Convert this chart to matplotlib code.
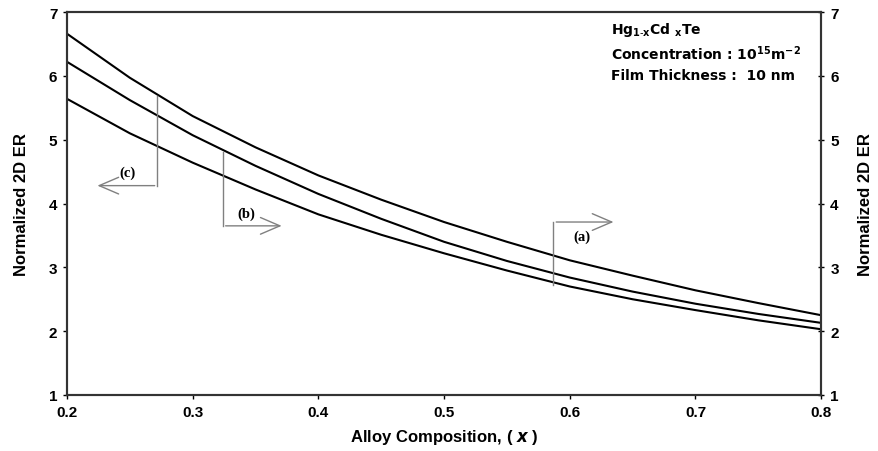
import numpy as np
import matplotlib.pyplot as plt

# alloy composition x and normalized 2D ER for the three curves
x = [0.20, 0.25, 0.30, 0.35, 0.40, 0.45, 0.50, 0.55, 0.60, 0.65, 0.70, 0.75, 0.80]
er_a = [6.66, 5.97, 5.37, 4.88, 4.44, 4.06, 3.71, 3.40, 3.11, 2.87, 2.64, 2.44, 2.25]
er_b = [6.22, 5.62, 5.07, 4.59, 4.15, 3.76, 3.40, 3.10, 2.84, 2.62, 2.43, 2.27, 2.13]
er_c = [5.64, 5.10, 4.64, 4.22, 3.83, 3.51, 3.22, 2.95, 2.70, 2.50, 2.33, 2.17, 2.03]

xticks = [0.2, 0.3, 0.4, 0.5, 0.6, 0.7, 0.8]
yticks = [1, 2, 3, 4, 5, 6, 7]

plt.rcParams['font.family'] = ['Liberation Sans', 'DejaVu Sans']

fig = plt.figure(figsize=(8.79, 4.52), dpi=100)
ax = fig.add_axes([0.0762, 0.1239, 0.858, 0.8473])

for y in (er_a, er_b, er_c):
    ax.plot(x, y, color='black', lw=1.5)

ax.set_xlim(0.2, 0.8)
ax.set_ylim(1, 7)
ax.set_xticks(xticks)
ax.set_xticklabels(['%.1f' % v for v in xticks])
ax.set_yticks(yticks)
for s in ax.spines.values():
    s.set_linewidth(1.5)
    s.set_color('#333333')
ax.tick_params(direction='out', length=3, width=1, labelsize=11, pad=4)
for lab in ax.get_xticklabels() + ax.get_yticklabels():
    lab.set_fontweight('bold')

ax2 = ax.twinx()
ax2.set_ylim(1, 7)
ax2.set_yticks(yticks)
ax2.tick_params(direction='inout', length=5, width=1, labelsize=11, pad=4)
for lab in ax2.get_yticklabels():
    lab.set_fontweight('bold')
for s in ax2.spines.values():
    s.set_linewidth(1.5)
    s.set_color('#333333')

ax.set_xlabel(r'Alloy Composition, ( $\mathbfit{x}$ )', fontsize=12, fontweight='bold', labelpad=6)
ax.set_ylabel('Normalized 2D ER', fontsize=12, fontweight='bold', labelpad=14)
ax2.set_ylabel('Normalized 2D ER', fontsize=12, fontweight='bold', labelpad=14)

# bracket annotations
gray = '#808080'
arr = dict(arrowstyle='->, head_length=0.7, head_width=0.3', color=gray, lw=1, mutation_scale=20)
lab_kw = dict(family='Liberation Serif', fontsize=10.5, fontweight='bold', ha='center')
# (c)
ax.plot([0.272, 0.272], [5.68, 4.28], color=gray, lw=1)
ax.annotate('', xy=(0.222, 4.28), xytext=(0.272, 4.28), arrowprops=arr)
ax.text(0.248, 4.38, '(c)', va='bottom', **lab_kw)
# (b)
ax.plot([0.324, 0.324], [4.81, 3.65], color=gray, lw=1)
ax.annotate('', xy=(0.373, 3.65), xytext=(0.324, 3.65), arrowprops=arr)
ax.text(0.343, 3.74, '(b)', va='bottom', **lab_kw)
# (a)
ax.plot([0.587, 0.587], [2.73, 3.71], color=gray, lw=1)
ax.annotate('', xy=(0.637, 3.71), xytext=(0.587, 3.71), arrowprops=arr)
ax.text(0.61, 3.60, '(a)', va='top', **lab_kw)

# info text
tx = 0.722
info_kw = dict(transform=ax.transAxes, family='DejaVu Sans', fontsize=10, fontweight='bold',
               ha='left', va='center')
ax.text(tx, 0.956, r'Hg$_{\mathbf{1\text{-}x}}$Cd $_{\mathbf{x}}$Te', **info_kw)
ax.text(tx, 0.893, r'Concentration : 10$^{\mathbf{15}}$m$^{\mathbf{-2}}$', **info_kw)
ax.text(tx, 0.836, 'Film Thickness :  10 nm', **info_kw)

fig.savefig('out.png', dpi=100)
